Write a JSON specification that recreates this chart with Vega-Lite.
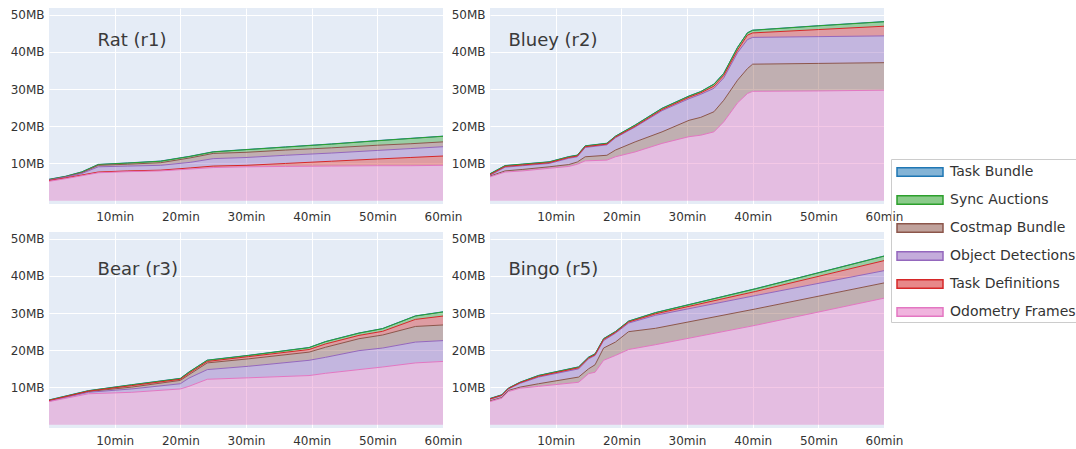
{
  "$schema": "https://vega.github.io/schema/vega-lite/v6.json",
  "padding": {"left": 10, "top": 8, "right": 0, "bottom": 0},
  "config": {
    "font": "DejaVu Sans",
    "view": {"fill": "#E5ECF6", "stroke": null},
    "axis": {"title": null, "grid": true, "gridColor": "#ffffff", "gridWidth": 1, "domain": false, "ticks": false, "labelFontSize": 12, "labelColor": "#333333"},
    "area": {"fillOpacity": 0.58},
    "text": {"align": "left", "baseline": "middle", "fontSize": 18, "color": "#3a3a3a"}
  },
  "datasets": {"mem": [
    {"panel":"Rat (r1)","t":0,"Odometry Frames":5.2,"Task Definitions":0.2,"Object Detections":0.1,"Costmap Bundle":0.1,"Sync Auctions":0.1,"Task Bundle":0.05},
    {"panel":"Rat (r1)","t":2.5,"Odometry Frames":5.9,"Task Definitions":0.2,"Object Detections":0.2,"Costmap Bundle":0.1,"Sync Auctions":0.1,"Task Bundle":0.05},
    {"panel":"Rat (r1)","t":5,"Odometry Frames":6.7,"Task Definitions":0.2,"Object Detections":0.4,"Costmap Bundle":0.2,"Sync Auctions":0.2,"Task Bundle":0.05},
    {"panel":"Rat (r1)","t":7.5,"Odometry Frames":7.5,"Task Definitions":0.2,"Object Detections":1.4,"Costmap Bundle":0.4,"Sync Auctions":0.2,"Task Bundle":0.05},
    {"panel":"Rat (r1)","t":12,"Odometry Frames":7.8,"Task Definitions":0.2,"Object Detections":1.3,"Costmap Bundle":0.5,"Sync Auctions":0.3,"Task Bundle":0.05},
    {"panel":"Rat (r1)","t":17,"Odometry Frames":8.0,"Task Definitions":0.2,"Object Detections":1.3,"Costmap Bundle":0.7,"Sync Auctions":0.4,"Task Bundle":0.05},
    {"panel":"Rat (r1)","t":21.5,"Odometry Frames":8.5,"Task Definitions":0.3,"Object Detections":1.5,"Costmap Bundle":1.2,"Sync Auctions":0.4,"Task Bundle":0.05},
    {"panel":"Rat (r1)","t":25,"Odometry Frames":8.9,"Task Definitions":0.4,"Object Detections":2.0,"Costmap Bundle":1.4,"Sync Auctions":0.4,"Task Bundle":0.05},
    {"panel":"Rat (r1)","t":30,"Odometry Frames":9.1,"Task Definitions":0.4,"Object Detections":2.1,"Costmap Bundle":1.4,"Sync Auctions":0.7,"Task Bundle":0.05},
    {"panel":"Rat (r1)","t":36,"Odometry Frames":9.2,"Task Definitions":0.8,"Object Detections":2.2,"Costmap Bundle":1.4,"Sync Auctions":0.8,"Task Bundle":0.05},
    {"panel":"Rat (r1)","t":43,"Odometry Frames":9.3,"Task Definitions":1.3,"Object Detections":2.2,"Costmap Bundle":1.4,"Sync Auctions":1.0,"Task Bundle":0.05},
    {"panel":"Rat (r1)","t":50,"Odometry Frames":9.4,"Task Definitions":1.8,"Object Detections":2.3,"Costmap Bundle":1.4,"Sync Auctions":1.2,"Task Bundle":0.05},
    {"panel":"Rat (r1)","t":55,"Odometry Frames":9.4,"Task Definitions":2.2,"Object Detections":2.4,"Costmap Bundle":1.3,"Sync Auctions":1.4,"Task Bundle":0.05},
    {"panel":"Rat (r1)","t":60,"Odometry Frames":9.5,"Task Definitions":2.5,"Object Detections":2.5,"Costmap Bundle":1.3,"Sync Auctions":1.5,"Task Bundle":0.05},

    {"panel":"Bluey (r2)","t":0,"Odometry Frames":6.4,"Costmap Bundle":0.2,"Object Detections":0.2,"Task Definitions":0.2,"Sync Auctions":0.2,"Task Bundle":0.05},
    {"panel":"Bluey (r2)","t":2.3,"Odometry Frames":7.7,"Costmap Bundle":0.3,"Object Detections":1.0,"Task Definitions":0.2,"Sync Auctions":0.2,"Task Bundle":0.05},
    {"panel":"Bluey (r2)","t":5,"Odometry Frames":8.0,"Costmap Bundle":0.4,"Object Detections":1.0,"Task Definitions":0.2,"Sync Auctions":0.2,"Task Bundle":0.05},
    {"panel":"Bluey (r2)","t":9,"Odometry Frames":8.7,"Costmap Bundle":0.4,"Object Detections":0.9,"Task Definitions":0.2,"Sync Auctions":0.2,"Task Bundle":0.05},
    {"panel":"Bluey (r2)","t":12,"Odometry Frames":9.2,"Costmap Bundle":0.5,"Object Detections":1.7,"Task Definitions":0.2,"Sync Auctions":0.2,"Task Bundle":0.05},
    {"panel":"Bluey (r2)","t":13.3,"Odometry Frames":9.8,"Costmap Bundle":0.6,"Object Detections":1.4,"Task Definitions":0.2,"Sync Auctions":0.2,"Task Bundle":0.05},
    {"panel":"Bluey (r2)","t":14.5,"Odometry Frames":10.7,"Costmap Bundle":1.1,"Object Detections":2.5,"Task Definitions":0.2,"Sync Auctions":0.2,"Task Bundle":0.05},
    {"panel":"Bluey (r2)","t":17.8,"Odometry Frames":10.9,"Costmap Bundle":1.3,"Object Detections":2.8,"Task Definitions":0.2,"Sync Auctions":0.2,"Task Bundle":0.05},
    {"panel":"Bluey (r2)","t":19.1,"Odometry Frames":11.8,"Costmap Bundle":1.8,"Object Detections":3.3,"Task Definitions":0.2,"Sync Auctions":0.2,"Task Bundle":0.05},
    {"panel":"Bluey (r2)","t":22.1,"Odometry Frames":13.1,"Costmap Bundle":2.7,"Object Detections":4.0,"Task Definitions":0.2,"Sync Auctions":0.3,"Task Bundle":0.05},
    {"panel":"Bluey (r2)","t":26.2,"Odometry Frames":15.4,"Costmap Bundle":3.1,"Object Detections":5.7,"Task Definitions":0.3,"Sync Auctions":0.3,"Task Bundle":0.05},
    {"panel":"Bluey (r2)","t":30.3,"Odometry Frames":17.2,"Costmap Bundle":4.4,"Object Detections":5.8,"Task Definitions":0.4,"Sync Auctions":0.3,"Task Bundle":0.05},
    {"panel":"Bluey (r2)","t":32.1,"Odometry Frames":17.6,"Costmap Bundle":4.8,"Object Detections":6.2,"Task Definitions":0.4,"Sync Auctions":0.3,"Task Bundle":0.05},
    {"panel":"Bluey (r2)","t":34.1,"Odometry Frames":18.5,"Costmap Bundle":5.4,"Object Detections":6.3,"Task Definitions":0.6,"Sync Auctions":0.5,"Task Bundle":0.05},
    {"panel":"Bluey (r2)","t":35.6,"Odometry Frames":21.2,"Costmap Bundle":5.8,"Object Detections":6.0,"Task Definitions":0.7,"Sync Auctions":0.5,"Task Bundle":0.05},
    {"panel":"Bluey (r2)","t":37.7,"Odometry Frames":26.3,"Costmap Bundle":6.1,"Object Detections":7.4,"Task Definitions":0.7,"Sync Auctions":0.7,"Task Bundle":0.05},
    {"panel":"Bluey (r2)","t":39.2,"Odometry Frames":28.8,"Costmap Bundle":6.7,"Object Detections":7.8,"Task Definitions":1.2,"Sync Auctions":0.6,"Task Bundle":0.05},
    {"panel":"Bluey (r2)","t":40,"Odometry Frames":29.4,"Costmap Bundle":7.3,"Object Detections":7.2,"Task Definitions":1.2,"Sync Auctions":0.7,"Task Bundle":0.05},
    {"panel":"Bluey (r2)","t":50,"Odometry Frames":29.5,"Costmap Bundle":7.4,"Object Detections":7.2,"Task Definitions":1.9,"Sync Auctions":1.0,"Task Bundle":0.05},
    {"panel":"Bluey (r2)","t":60,"Odometry Frames":29.7,"Costmap Bundle":7.4,"Object Detections":7.2,"Task Definitions":2.6,"Sync Auctions":1.2,"Task Bundle":0.05},

    {"panel":"Bear (r3)","t":0,"Odometry Frames":6.2,"Object Detections":0.1,"Costmap Bundle":0.1,"Task Definitions":0.1,"Sync Auctions":0.1,"Task Bundle":0.05},
    {"panel":"Bear (r3)","t":6,"Odometry Frames":8.3,"Object Detections":0.4,"Costmap Bundle":0.2,"Task Definitions":0.1,"Sync Auctions":0.1,"Task Bundle":0.05},
    {"panel":"Bear (r3)","t":12.6,"Odometry Frames":8.7,"Object Detections":0.9,"Costmap Bundle":0.5,"Task Definitions":0.4,"Sync Auctions":0.2,"Task Bundle":0.05},
    {"panel":"Bear (r3)","t":20,"Odometry Frames":9.6,"Object Detections":1.4,"Costmap Bundle":0.9,"Task Definitions":0.3,"Sync Auctions":0.2,"Task Bundle":0.05},
    {"panel":"Bear (r3)","t":21.3,"Odometry Frames":10.3,"Object Detections":2.2,"Costmap Bundle":0.9,"Task Definitions":0.4,"Sync Auctions":0.3,"Task Bundle":0.05},
    {"panel":"Bear (r3)","t":24.1,"Odometry Frames":12.2,"Object Detections":2.6,"Costmap Bundle":1.8,"Task Definitions":0.4,"Sync Auctions":0.3,"Task Bundle":0.05},
    {"panel":"Bear (r3)","t":30.4,"Odometry Frames":12.6,"Object Detections":3.1,"Costmap Bundle":2.0,"Task Definitions":0.6,"Sync Auctions":0.3,"Task Bundle":0.05},
    {"panel":"Bear (r3)","t":39.6,"Odometry Frames":13.2,"Object Detections":4.1,"Costmap Bundle":2.2,"Task Definitions":0.7,"Sync Auctions":0.5,"Task Bundle":0.05},
    {"panel":"Bear (r3)","t":42.1,"Odometry Frames":13.8,"Object Detections":4.3,"Costmap Bundle":2.7,"Task Definitions":0.9,"Sync Auctions":0.6,"Task Bundle":0.05},
    {"panel":"Bear (r3)","t":47.2,"Odometry Frames":14.8,"Object Detections":5.1,"Costmap Bundle":3.2,"Task Definitions":0.9,"Sync Auctions":0.6,"Task Bundle":0.05},
    {"panel":"Bear (r3)","t":50.8,"Odometry Frames":15.5,"Object Detections":5.1,"Costmap Bundle":3.5,"Task Definitions":1.0,"Sync Auctions":0.7,"Task Bundle":0.05},
    {"panel":"Bear (r3)","t":55.8,"Odometry Frames":16.6,"Object Detections":5.6,"Costmap Bundle":4.2,"Task Definitions":1.9,"Sync Auctions":0.9,"Task Bundle":0.05},
    {"panel":"Bear (r3)","t":60,"Odometry Frames":17.0,"Object Detections":5.6,"Costmap Bundle":4.2,"Task Definitions":2.4,"Sync Auctions":1.1,"Task Bundle":0.05},

    {"panel":"Bingo (r5)","t":0,"Odometry Frames":6.2,"Costmap Bundle":0.2,"Object Detections":0.4,"Task Definitions":0.1,"Sync Auctions":0.1,"Task Bundle":0.05},
    {"panel":"Bingo (r5)","t":1.8,"Odometry Frames":7.1,"Costmap Bundle":0.2,"Object Detections":0.5,"Task Definitions":0.1,"Sync Auctions":0.1,"Task Bundle":0.05},
    {"panel":"Bingo (r5)","t":2.8,"Odometry Frames":8.9,"Costmap Bundle":0.3,"Object Detections":0.4,"Task Definitions":0.1,"Sync Auctions":0.1,"Task Bundle":0.05},
    {"panel":"Bingo (r5)","t":4.6,"Odometry Frames":9.8,"Costmap Bundle":0.3,"Object Detections":1.0,"Task Definitions":0.2,"Sync Auctions":0.1,"Task Bundle":0.05},
    {"panel":"Bingo (r5)","t":7.4,"Odometry Frames":10.3,"Costmap Bundle":0.7,"Object Detections":1.8,"Task Definitions":0.2,"Sync Auctions":0.2,"Task Bundle":0.05},
    {"panel":"Bingo (r5)","t":13.5,"Odometry Frames":11.4,"Costmap Bundle":1.4,"Object Detections":2.2,"Task Definitions":0.3,"Sync Auctions":0.2,"Task Bundle":0.05},
    {"panel":"Bingo (r5)","t":15,"Odometry Frames":13.7,"Costmap Bundle":1.3,"Object Detections":2.7,"Task Definitions":0.2,"Sync Auctions":0.2,"Task Bundle":0.05},
    {"panel":"Bingo (r5)","t":16,"Odometry Frames":14.1,"Costmap Bundle":2.0,"Object Detections":2.5,"Task Definitions":0.2,"Sync Auctions":0.2,"Task Bundle":0.05},
    {"panel":"Bingo (r5)","t":17.3,"Odometry Frames":17.3,"Costmap Bundle":3.3,"Object Detections":2.0,"Task Definitions":0.3,"Sync Auctions":0.2,"Task Bundle":0.05},
    {"panel":"Bingo (r5)","t":19.1,"Odometry Frames":18.6,"Costmap Bundle":3.6,"Object Detections":2.4,"Task Definitions":0.2,"Sync Auctions":0.2,"Task Bundle":0.05},
    {"panel":"Bingo (r5)","t":21.1,"Odometry Frames":20.2,"Costmap Bundle":4.8,"Object Detections":2.3,"Task Definitions":0.3,"Sync Auctions":0.2,"Task Bundle":0.05},
    {"panel":"Bingo (r5)","t":25.2,"Odometry Frames":21.5,"Costmap Bundle":4.4,"Object Detections":3.5,"Task Definitions":0.4,"Sync Auctions":0.3,"Task Bundle":0.05},
    {"panel":"Bingo (r5)","t":40.4,"Odometry Frames":26.7,"Costmap Bundle":4.4,"Object Detections":3.6,"Task Definitions":1.1,"Sync Auctions":0.7,"Task Bundle":0.05},
    {"panel":"Bingo (r5)","t":60,"Odometry Frames":34.0,"Costmap Bundle":4.1,"Object Detections":3.3,"Task Definitions":2.7,"Sync Auctions":1.2,"Task Bundle":0.05}
  ]},
  "data": {"name": "mem"},
  "transform": [
    {"fold": ["Task Bundle", "Sync Auctions", "Costmap Bundle", "Object Detections", "Task Definitions", "Odometry Frames"], "as": ["series", "mb"]},
    {"calculate": "datum.panel == 'Rat (r1)' ? indexof(['Odometry Frames','Task Definitions','Object Detections','Costmap Bundle','Sync Auctions','Task Bundle'], datum.series) : datum.panel == 'Bear (r3)' ? indexof(['Odometry Frames','Object Detections','Costmap Bundle','Task Definitions','Sync Auctions','Task Bundle'], datum.series) : indexof(['Odometry Frames','Costmap Bundle','Object Detections','Task Definitions','Sync Auctions','Task Bundle'], datum.series)", "as": "rank"}
  ],
  "columns": 2,
  "spacing": {"row": 28, "column": 47},
  "bounds": "flush",
  "concat": [
    {"width": 394, "height": 196, "transform": [{"filter": "datum.panel == 'Rat (r1)'"}], "layer": [
      {"mark": {"type": "area", "line": {"strokeWidth": 1}},
       "encoding": {
         "x": {"field": "t", "type": "quantitative", "scale": {"domain": [0, 60], "nice": false, "zero": false}, "axis": {"values": [10, 20, 30, 40, 50, 60], "labelExpr": "datum.value + 'min'", "labelPadding": 7, "labelFlush": false}},
         "y": {"field": "mb", "type": "quantitative", "stack": "zero", "scale": {"domain": [-0.9, 51.8], "nice": false, "zero": false}, "axis": {"values": [10, 20, 30, 40, 50], "labelExpr": "datum.value + 'MB'", "labelPadding": 5}},
         "color": {"field": "series", "type": "nominal",
           "scale": {"domain": ["Task Bundle", "Sync Auctions", "Costmap Bundle", "Object Detections", "Task Definitions", "Odometry Frames"], "range": ["#1f77b4", "#2ca02c", "#8c564b", "#9467bd", "#d62728", "#e377c2"]},
           "legend": {"orient": "none", "legendX": 842, "legendY": 151, "title": null,
             "symbolType": "M-0.7,-0.43H3.9V0.43H-0.7Z", "symbolSize": 400, "symbolStrokeWidth": 1.5,
             "labelFontSize": 14, "labelColor": "#333333", "labelOffset": 35, "rowPadding": 9,
             "padding": 2, "strokeColor": "#cccccc",
             "encode": {"symbols": {"update": {"fillOpacity": {"value": 0.55}, "stroke": {"scale": "color", "field": "value"}}}}}},
         "order": {"field": "rank", "type": "quantitative"}}},
      {"transform": [{"filter": "datum.series == 'Odometry Frames' && datum.t == 0"}],
       "mark": {"type": "text"},
       "encoding": {"x": {"datum": 7.4}, "y": {"datum": 43}, "text": {"field": "panel", "type": "nominal"}}}
    ]},
    {"width": 394, "height": 196, "transform": [{"filter": "datum.panel == 'Bluey (r2)'"}], "layer": [
      {"mark": {"type": "area", "line": {"strokeWidth": 1}},
       "encoding": {
         "x": {"field": "t", "type": "quantitative", "scale": {"domain": [0, 60], "nice": false, "zero": false}, "axis": {"values": [10, 20, 30, 40, 50, 60], "labelExpr": "datum.value + 'min'", "labelPadding": 7, "labelFlush": false}},
         "y": {"field": "mb", "type": "quantitative", "stack": "zero", "scale": {"domain": [-0.9, 51.8], "nice": false, "zero": false}, "axis": {"values": [10, 20, 30, 40, 50], "labelExpr": "datum.value + 'MB'", "labelPadding": 5}},
         "color": {"field": "series", "type": "nominal"},
         "order": {"field": "rank", "type": "quantitative"}}},
      {"transform": [{"filter": "datum.series == 'Odometry Frames' && datum.t == 0"}],
       "mark": {"type": "text"},
       "encoding": {"x": {"datum": 2.8}, "y": {"datum": 43}, "text": {"field": "panel", "type": "nominal"}}}
    ]},
    {"width": 394, "height": 196, "transform": [{"filter": "datum.panel == 'Bear (r3)'"}], "layer": [
      {"mark": {"type": "area", "line": {"strokeWidth": 1}},
       "encoding": {
         "x": {"field": "t", "type": "quantitative", "scale": {"domain": [0, 60], "nice": false, "zero": false}, "axis": {"values": [10, 20, 30, 40, 50, 60], "labelExpr": "datum.value + 'min'", "labelPadding": 7, "labelFlush": false}},
         "y": {"field": "mb", "type": "quantitative", "stack": "zero", "scale": {"domain": [-0.9, 51.8], "nice": false, "zero": false}, "axis": {"values": [10, 20, 30, 40, 50], "labelExpr": "datum.value + 'MB'", "labelPadding": 5}},
         "color": {"field": "series", "type": "nominal"},
         "order": {"field": "rank", "type": "quantitative"}}},
      {"transform": [{"filter": "datum.series == 'Odometry Frames' && datum.t == 0"}],
       "mark": {"type": "text"},
       "encoding": {"x": {"datum": 7.4}, "y": {"datum": 41.5}, "text": {"field": "panel", "type": "nominal"}}}
    ]},
    {"width": 394, "height": 196, "transform": [{"filter": "datum.panel == 'Bingo (r5)'"}], "layer": [
      {"mark": {"type": "area", "line": {"strokeWidth": 1}},
       "encoding": {
         "x": {"field": "t", "type": "quantitative", "scale": {"domain": [0, 60], "nice": false, "zero": false}, "axis": {"values": [10, 20, 30, 40, 50, 60], "labelExpr": "datum.value + 'min'", "labelPadding": 7, "labelFlush": false}},
         "y": {"field": "mb", "type": "quantitative", "stack": "zero", "scale": {"domain": [-0.9, 51.8], "nice": false, "zero": false}, "axis": {"values": [10, 20, 30, 40, 50], "labelExpr": "datum.value + 'MB'", "labelPadding": 5}},
         "color": {"field": "series", "type": "nominal"},
         "order": {"field": "rank", "type": "quantitative"}}},
      {"transform": [{"filter": "datum.series == 'Odometry Frames' && datum.t == 0"}],
       "mark": {"type": "text"},
       "encoding": {"x": {"datum": 2.8}, "y": {"datum": 41.5}, "text": {"field": "panel", "type": "nominal"}}}
    ]}
  ]
}
